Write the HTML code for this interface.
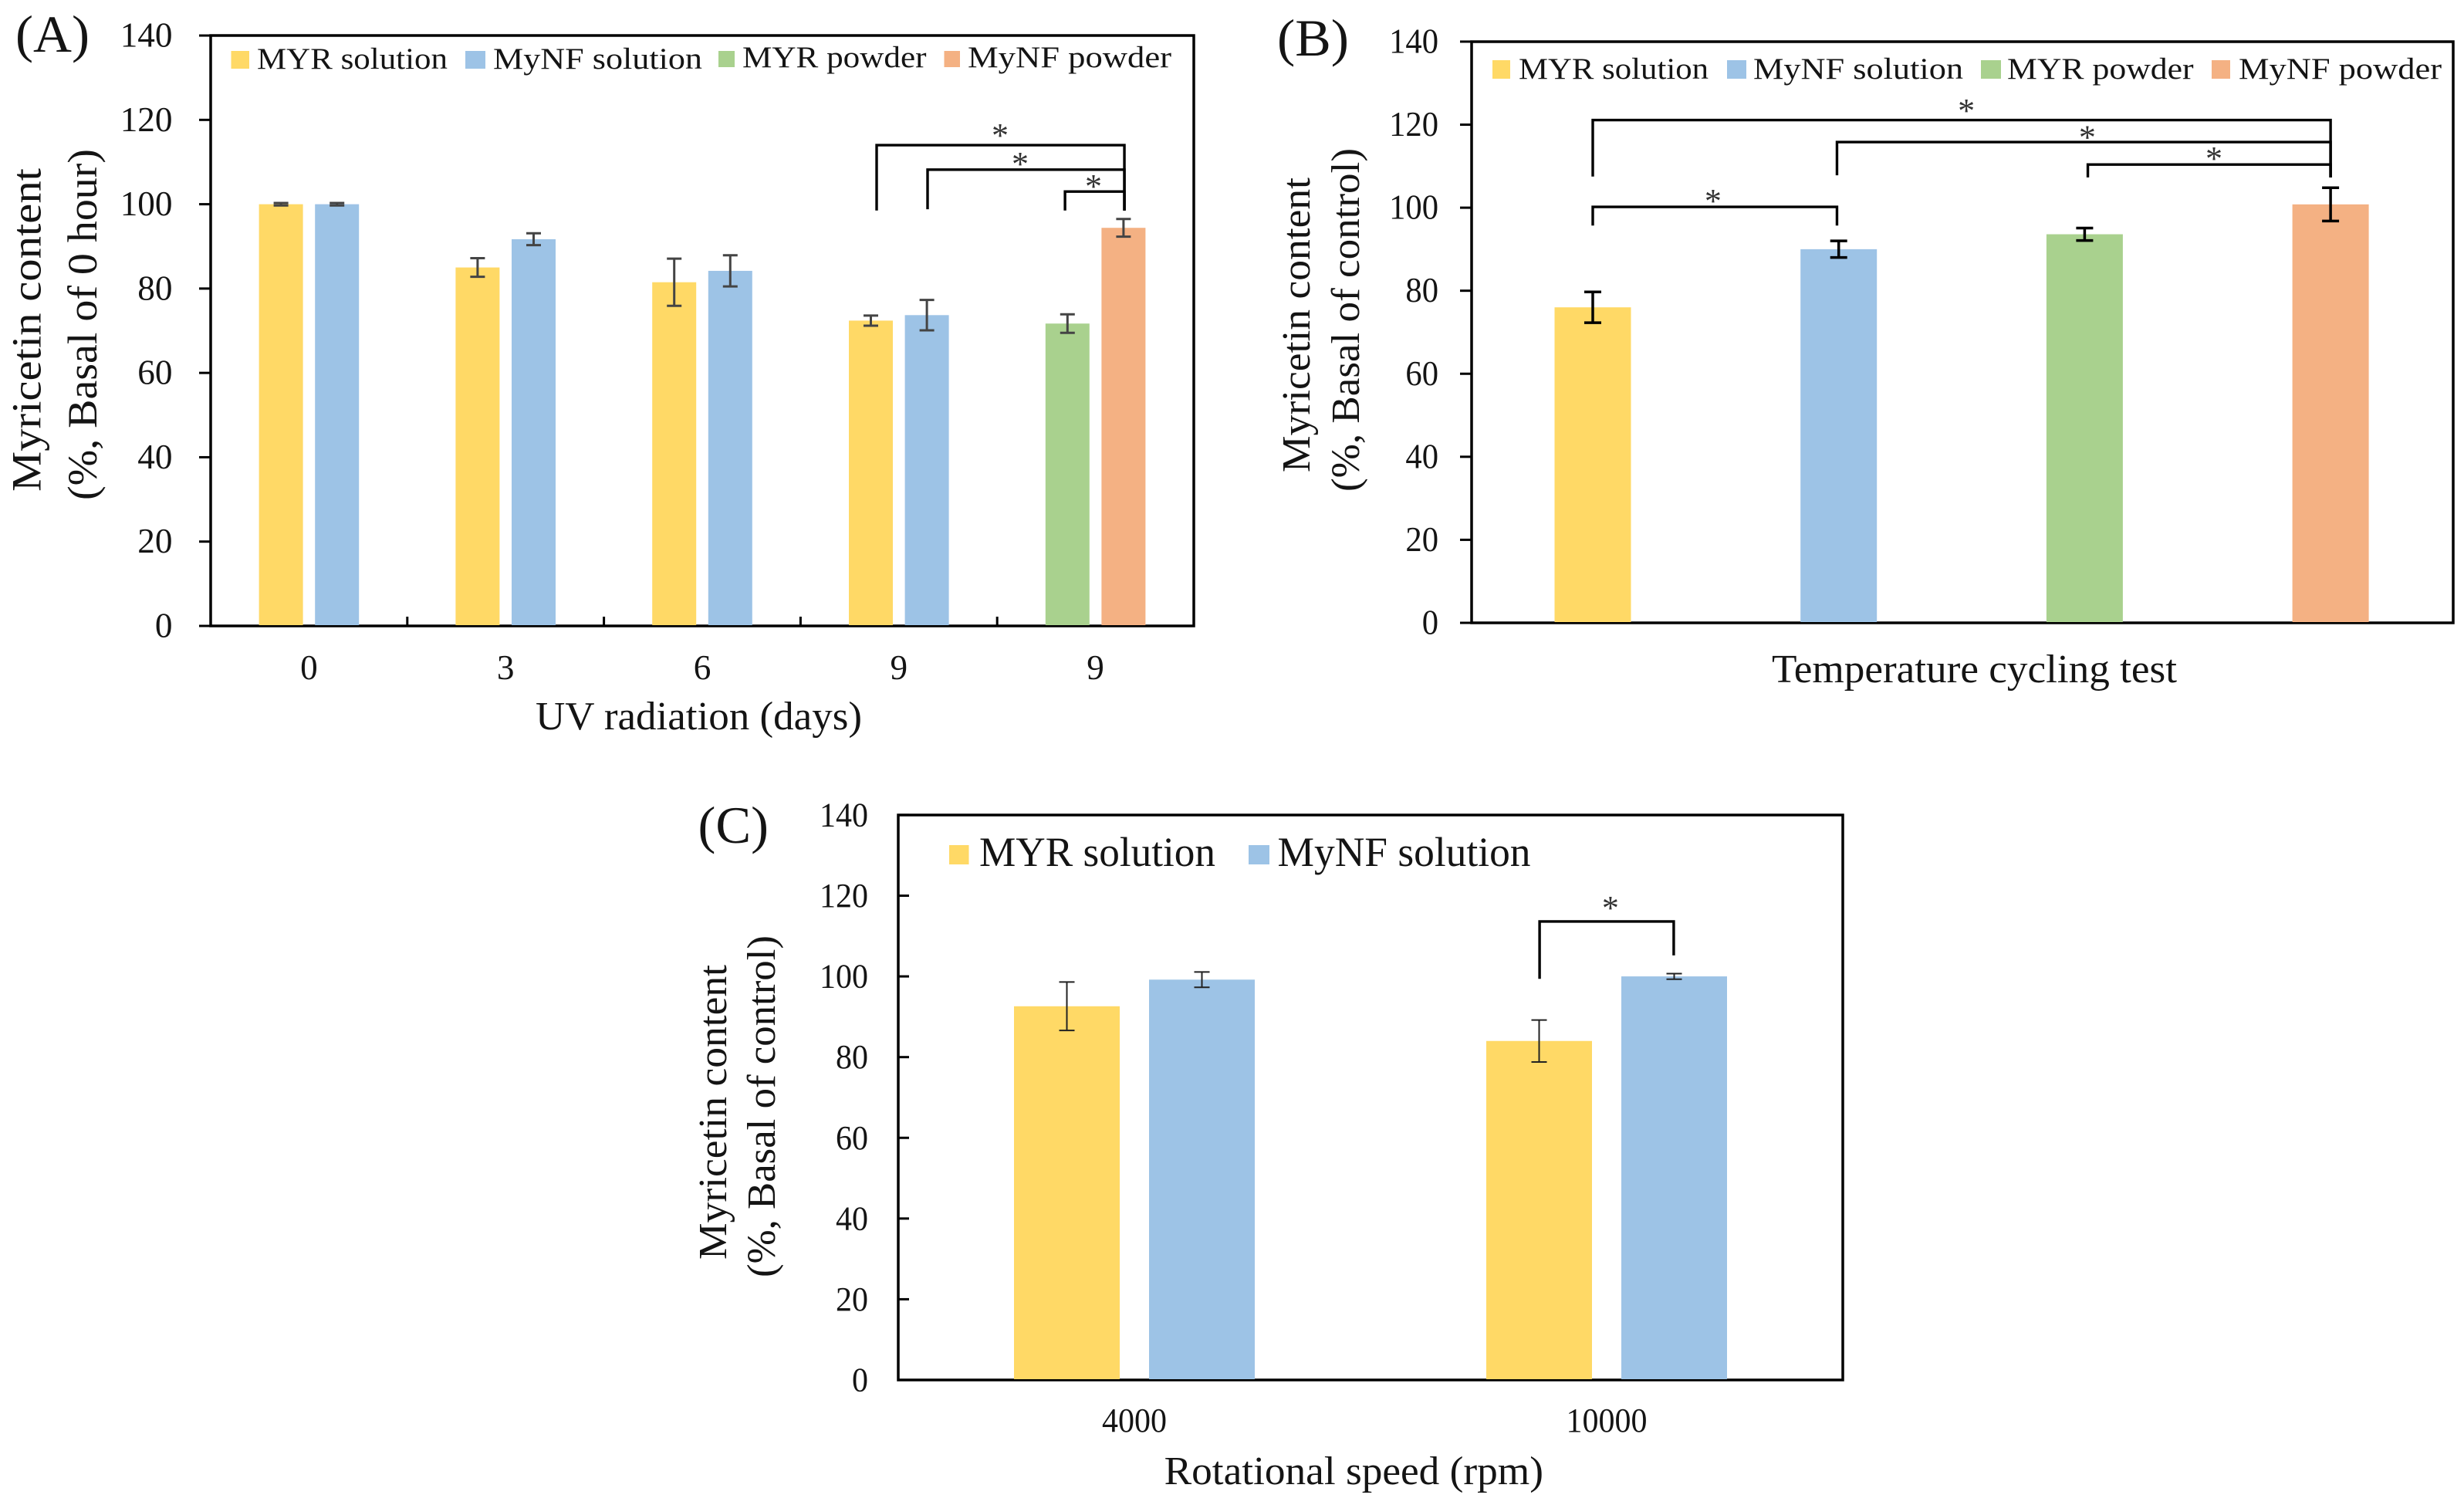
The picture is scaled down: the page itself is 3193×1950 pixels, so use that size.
<!DOCTYPE html>
<html lang="en">
<head>
<meta charset="utf-8">
<title>Myricetin content stability charts</title>
<style>
html,body{margin:0;padding:0;background:#fff;}
svg{display:block;}
text{font-family:"Liberation Serif",serif;fill:#141414;}
</style>
</head>
<body>
<svg id="figure" xmlns="http://www.w3.org/2000/svg" width="3193" height="1950" viewBox="0 0 3193 1950">
  <rect x="0" y="0" width="3193" height="1950" fill="#ffffff"/>

  <g id="panel-a">
    <text x="20" y="67" font-size="68" textLength="96" lengthAdjust="spacingAndGlyphs">(A)</text>
    <rect x="273" y="46" width="1274" height="765" fill="none" stroke="#000" stroke-width="3.5"/>
    <text transform="translate(52.5,637) rotate(-90)" font-size="54" textLength="419" lengthAdjust="spacingAndGlyphs">Myricetin content</text>
    <text transform="translate(125,648) rotate(-90)" font-size="54" textLength="455" lengthAdjust="spacingAndGlyphs">(%, Basal of 0 hour)</text>
    <text x="694" y="945" font-size="52" textLength="423" lengthAdjust="spacingAndGlyphs">UV radiation (days)</text>
    <g>
      <rect x="299.5" y="66" width="23.5" height="23" fill="#FFD966"/>
      <text x="333" y="89" font-size="39" textLength="247" lengthAdjust="spacingAndGlyphs">MYR solution</text>
      <rect x="603" y="66" width="26" height="23" fill="#9DC3E6"/>
      <text x="639" y="89" font-size="39" textLength="271" lengthAdjust="spacingAndGlyphs">MyNF solution</text>
      <rect x="931" y="66" width="21" height="21" fill="#A9D18E"/>
      <text x="962" y="87" font-size="39" textLength="238.5" lengthAdjust="spacingAndGlyphs">MYR powder</text>
      <rect x="1223.5" y="66" width="20.5" height="21" fill="#F4B183"/>
      <text x="1254" y="87" font-size="39" textLength="264" lengthAdjust="spacingAndGlyphs">MyNF powder</text>
    </g>
  </g>

  <g id="panel-b">
    <text x="1655" y="72" font-size="68" textLength="93" lengthAdjust="spacingAndGlyphs">(B)</text>
    <rect x="1907" y="54" width="1272" height="753" fill="none" stroke="#000" stroke-width="3.5"/>
    <text transform="translate(1697,612) rotate(-90)" font-size="52" textLength="382" lengthAdjust="spacingAndGlyphs">Myricetin content</text>
    <text transform="translate(1761,637) rotate(-90)" font-size="52" textLength="445" lengthAdjust="spacingAndGlyphs">(%, Basal of control)</text>
    <text x="2296" y="884" font-size="52" textLength="525" lengthAdjust="spacingAndGlyphs">Temperature cycling test</text>
    <g>
      <rect x="1934" y="78" width="23" height="24" fill="#FFD966"/>
      <text x="1968" y="102" font-size="39" textLength="246" lengthAdjust="spacingAndGlyphs">MYR solution</text>
      <rect x="2238" y="78" width="25" height="24" fill="#9DC3E6"/>
      <text x="2272" y="102" font-size="39" textLength="272" lengthAdjust="spacingAndGlyphs">MyNF solution</text>
      <rect x="2567" y="78" width="26" height="24" fill="#A9D18E"/>
      <text x="2601" y="102" font-size="39" textLength="241.6" lengthAdjust="spacingAndGlyphs">MYR powder</text>
      <rect x="2866" y="78" width="24" height="24" fill="#F4B183"/>
      <text x="2901" y="102" font-size="39" textLength="263" lengthAdjust="spacingAndGlyphs">MyNF powder</text>
    </g>
  </g>

  <g id="panel-c">
    <text x="904.5" y="1092" font-size="68" textLength="91.5" lengthAdjust="spacingAndGlyphs">(C)</text>
    <rect x="1164" y="1056" width="1224" height="732" fill="none" stroke="#000" stroke-width="3.5"/>
    <text transform="translate(941,1632) rotate(-90)" font-size="52" textLength="382" lengthAdjust="spacingAndGlyphs">Myricetin content</text>
    <text transform="translate(1004,1655) rotate(-90)" font-size="52" textLength="443" lengthAdjust="spacingAndGlyphs">(%, Basal of control)</text>
    <text x="1508.6" y="1923" font-size="52" textLength="491.4" lengthAdjust="spacingAndGlyphs">Rotational speed (rpm)</text>
    <g>
      <rect x="1230" y="1095" width="25.5" height="25" fill="#FFD966"/>
      <text x="1269" y="1122" font-size="54" textLength="306" lengthAdjust="spacingAndGlyphs">MYR solution</text>
      <rect x="1618" y="1095" width="27" height="25" fill="#9DC3E6"/>
      <text x="1655.5" y="1122" font-size="54" textLength="328" lengthAdjust="spacingAndGlyphs">MyNF solution</text>
    </g>
  </g>
</svg>

<script>
// Shared y axis tick labels
const yTickLabels = [0, 20, 40, 60, 80, 100, 120, 140];

// Panel A: UV radiation
const aCategories = ["0", "3", "6", "9", "9"];
const aMyrSolution = [100, 85, 81.5, 72.4, null];
const aMynfSolution = [100, 91.7, 84.2, 73.7, null];
const aMyrPowder = [null, null, null, null, 71.7];
const aMynfPowder = [null, null, null, null, 94.4];
const aMyrSolutionErr = [0.3, 2.2, 5.6, 1.2, null];
const aMynfSolutionErr = [0.3, 1.4, 3.7, 3.6, null];
const aMyrPowderErr = [null, null, null, null, 2.2];
const aMynfPowderErr = [null, null, null, null, 2.1];
const aBracketFrom = [2.887, 3.146, 3.845];
const aBracketTo = [4.147, 4.147, 4.147];
const aBracketLevel = [114.0, 108.2, 103.0];
const aBracketDropFrom = [98.5, 98.8, 98.5];
const aBracketDropTo = [98.5, 98.5, 98.5];
const aStarCategory = [3.515, 3.617, 3.99];
const aStarValue = [117.3, 110.5, 105.2];

// Panel B: temperature cycling
const bMyrSolution = [76];
const bMynfSolution = [90];
const bMyrPowder = [93.6];
const bMynfPowder = [100.8];
const bMyrSolutionErr = [3.7];
const bMynfSolutionErr = [2];
const bMyrPowderErr = [1.5];
const bMynfPowderErr = [4];
const bBracketFrom = [0, 0.993, 2.013, 0];
const bBracketTo = [3, 3, 3, 0.993];
const bBracketLevel = [121.1, 115.8, 110.4, 100.2];
const bBracketDropFrom = [107.5, 107.8, 107.3, 95.7];
const bBracketDropTo = [107.3, 107.3, 107.3, 95.7];
const bStarCategory = [1.519, 2.011, 2.526, 0.489];
const bStarValue = [124.4, 118, 112.8, 102.6];

// Panel C: rotational speed
const cCategories = ["4000", "10000"];
const cMyrSolution = [92.6, 84];
const cMynfSolution = [99.2, 100];
const cMyrSolutionErr = [6, 5.2];
const cMynfSolutionErr = [1.9, 0.7];
const cBracketFrom = [0.858];
const cBracketTo = [1.142];
const cBracketLevel = [113.6];
const cBracketDropFrom = [99.4];
const cBracketDropTo = [105.2];
const cStarCategory = [1.008];
const cStarValue = [118];

const NS = "http://www.w3.org/2000/svg";
const YELLOW = "#FFD966", BLUE = "#9DC3E6", GREEN = "#A9D18E", ORANGE = "#F4B183";

function svgEl(tag, attrs, parent) {
  const el = document.createElementNS(NS, tag);
  for (const k in attrs) el.setAttribute(k, attrs[k]);
  parent.appendChild(el);
  return el;
}

function drawPanel(p) {
  const root = document.getElementById(p.id);
  const xScale = function (c) { return p.x0 + c * p.step; };
  const yScale = function (v) { return p.yZero - v * p.yPerUnit; };

  // y ticks and labels
  yTickLabels.forEach(function (t) {
    const y = yScale(t);
    const tick = svgEl("line", {x1: p.frameLeft, x2: p.frameLeft + p.yTickDir * p.yTickLen, y1: y, y2: y, stroke: "#000", "stroke-width": 3}, root);
    
    
    const s = String(t);
    const label = svgEl("text", {x: p.yLabelRight, y: y + 14.5, "font-size": p.tickFont, "text-anchor": "end", textLength: s.length * p.digitWidth, lengthAdjust: "spacingAndGlyphs"}, root);
    label.textContent = s;
    
    
  });

  // x ticks and labels
  if (p.categories) {
    p.categories.forEach(function (cat, i) {
      const label = svgEl("text", {x: xScale(i), y: p.xLabelBaseline, "font-size": p.tickFont, "text-anchor": "middle", textLength: cat.length * p.digitWidth, lengthAdjust: "spacingAndGlyphs"}, root);
      label.textContent = cat;
      
      
      if (p.xTicks && i < p.categories.length - 1) {
        const tick = svgEl("line", {x1: xScale(i + 0.5), x2: xScale(i + 0.5), y1: p.yZero, y2: p.yZero - 12, stroke: "#000", "stroke-width": 3}, root);
        
        
      }
    });
  }

  // bars
  p.series.forEach(function (s) {
    s.values.forEach(function (v, i) {
      if (v === null) return;
      const cx = xScale(i) + s.slot * p.barOffset;
      const bar = svgEl("rect", {x: cx - p.barWidth / 2, y: yScale(v), width: p.barWidth, height: p.yZero - yScale(v) - 1, fill: s.color}, root);
      
      
    });
  });

  // error bars (drawn over every bar)
  p.series.forEach(function (s) {
    s.values.forEach(function (v, i) {
      if (v === null) return;
      const cx = xScale(i) + s.slot * p.barOffset;
      const e = s.errors[i];
      const hi = yScale(v + e), lo = yScale(v - e);
      const err = svgEl("path", {
        d: "M" + (cx - p.capWidth / 2) + " " + hi + "H" + (cx + p.capWidth / 2) +
           "M" + cx + " " + hi + "V" + lo +
           "M" + (cx - p.capWidth / 2) + " " + lo + "H" + (cx + p.capWidth / 2),
        fill: "none", stroke: p.errColor, "stroke-width": p.errWidth
      }, root);
      
      
    });
  });

  // significance brackets
  p.bracketFrom.forEach(function (from, i) {
    const d = "M" + xScale(from) + " " + yScale(p.bracketDropFrom[i]) +
              "V" + yScale(p.bracketLevel[i]) +
              "H" + xScale(p.bracketTo[i]) +
              "V" + yScale(p.bracketDropTo[i]);
    const br = svgEl("path", {d: d, fill: "none", stroke: "#000", "stroke-width": 3.4}, root);
    
    
  });

  // significance stars
  p.starCategory.forEach(function (c, i) {
    const star = svgEl("text", {x: xScale(c), y: yScale(p.starValue[i]) + 20, "font-size": 44, "text-anchor": "middle", style: "fill:#333"}, root);
    star.textContent = "*";
    
    
  });
}

drawPanel({
  id: "panel-a", frameLeft: 273, x0: 400.4, step: 254.8, yZero: 811, yPerUnit: 5.464,
  yTickDir: -1, yTickLen: 15, yLabelRight: 223.5, tickFont: 46, digitWidth: 22.6,
  categories: aCategories, xTicks: true, xLabelBaseline: 880,
  barWidth: 57, barOffset: 36.3, capWidth: 19, errColor: "#444", errWidth: 3,
  series: [
    {key: "myr-solution", color: YELLOW, slot: -1, values: aMyrSolution, errors: aMyrSolutionErr},
    {key: "mynf-solution", color: BLUE, slot: 1, values: aMynfSolution, errors: aMynfSolutionErr},
    {key: "myr-powder", color: GREEN, slot: -1, values: aMyrPowder, errors: aMyrPowderErr},
    {key: "mynf-powder", color: ORANGE, slot: 1, values: aMynfPowder, errors: aMynfPowderErr}
  ],
  bracketFrom: aBracketFrom, bracketTo: aBracketTo, bracketLevel: aBracketLevel,
  bracketDropFrom: aBracketDropFrom, bracketDropTo: aBracketDropTo,
  starCategory: aStarCategory, starValue: aStarValue
});

// Panel B draws one bar per category, each from its own series at its own position.
function shift(arr, pos) {
  const out = [null, null, null, null];
  out[pos] = arr[0];
  return out;
}

drawPanel({
  id: "panel-b", frameLeft: 1907, x0: 2064, step: 318.7, yZero: 807, yPerUnit: 5.379,
  yTickDir: -1, yTickLen: 15, yLabelRight: 1864, tickFont: 46, digitWidth: 21.3,
  categories: null, xTicks: false, xLabelBaseline: 0,
  barWidth: 99, barOffset: 0, capWidth: 22, errColor: "#000", errWidth: 3.5,
  series: [
    {key: "myr-solution", color: YELLOW, slot: 0, values: shift(bMyrSolution, 0), errors: shift(bMyrSolutionErr, 0)},
    {key: "mynf-solution", color: BLUE, slot: 0, values: shift(bMynfSolution, 1), errors: shift(bMynfSolutionErr, 1)},
    {key: "myr-powder", color: GREEN, slot: 0, values: shift(bMyrPowder, 2), errors: shift(bMyrPowderErr, 2)},
    {key: "mynf-powder", color: ORANGE, slot: 0, values: shift(bMynfPowder, 3), errors: shift(bMynfPowderErr, 3)}
  ],
  bracketFrom: bBracketFrom, bracketTo: bBracketTo, bracketLevel: bBracketLevel,
  bracketDropFrom: bBracketDropFrom, bracketDropTo: bBracketDropTo,
  starCategory: bStarCategory, starValue: bStarValue
});

drawPanel({
  id: "panel-c", frameLeft: 1164, x0: 1470, step: 612, yZero: 1788, yPerUnit: 5.229,
  yTickDir: 1, yTickLen: 14, yLabelRight: 1125, tickFont: 44, digitWidth: 21,
  categories: cCategories, xTicks: false, xLabelBaseline: 1855,
  barWidth: 137, barOffset: 87.5, capWidth: 20, errColor: "#222", errWidth: 2,
  series: [
    {key: "myr-solution", color: YELLOW, slot: -1, values: cMyrSolution, errors: cMyrSolutionErr},
    {key: "mynf-solution", color: BLUE, slot: 1, values: cMynfSolution, errors: cMynfSolutionErr}
  ],
  bracketFrom: cBracketFrom, bracketTo: cBracketTo, bracketLevel: cBracketLevel,
  bracketDropFrom: cBracketDropFrom, bracketDropTo: cBracketDropTo,
  starCategory: cStarCategory, starValue: cStarValue
});
</script>
</body>
</html>
